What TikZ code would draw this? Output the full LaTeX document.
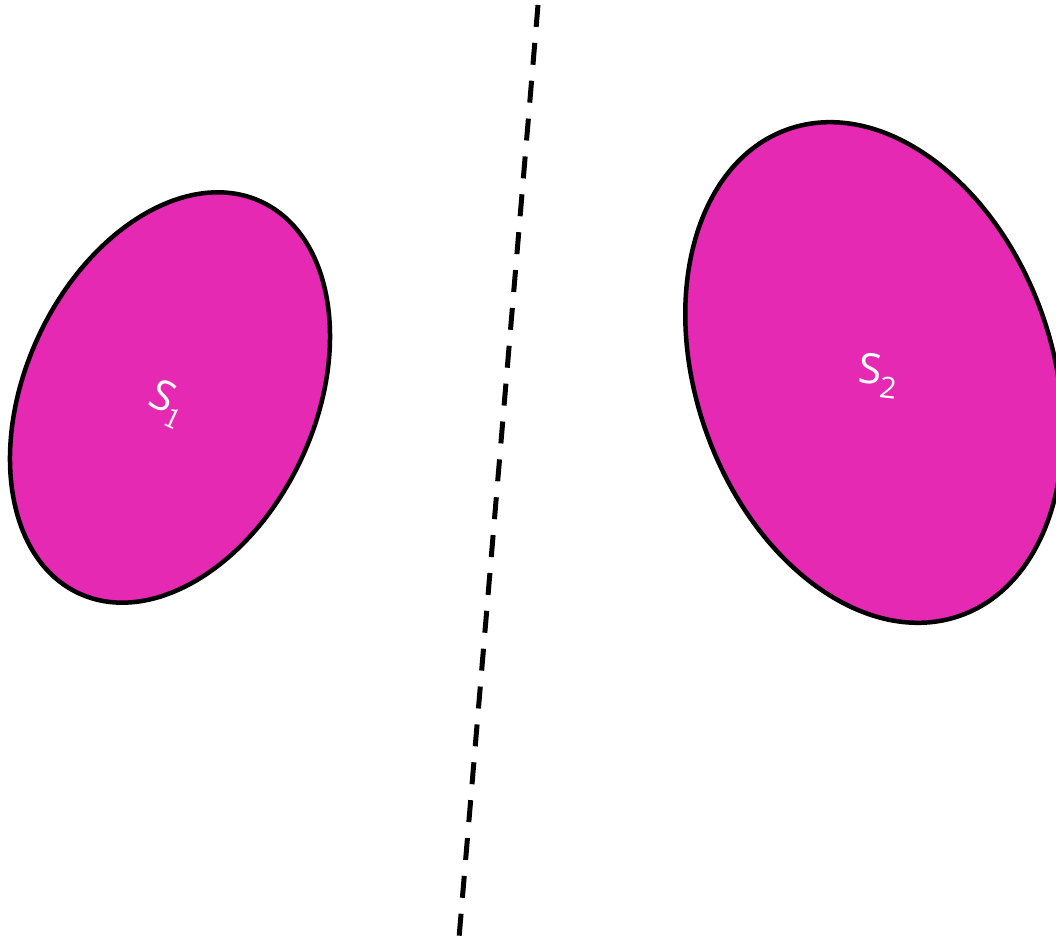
\documentclass[tikz,border=0pt]{standalone}
\usepackage{fontspec}
\setmainfont{Open Sans}
\usetikzlibrary{shapes.geometric}
\definecolor{blob}{HTML}{E529B3}
\tikzset{
  blobshape/.style={ellipse, draw=black, fill=blob, line width=4.5pt, inner sep=0pt},
  blobtext/.style={text=white, font=\fontsize{42}{46}\selectfont, inner sep=0pt},
  divider/.style={draw=black, line width=5pt, dash pattern=on 22pt off 16pt}
}
\begin{document}
\begin{tikzpicture}[x=1pt,y=1pt]
\useasboundingbox (0,0) rectangle (1056,941);
\clip (0,0) rectangle (1056,941);
\node[blobshape, minimum width=290pt, minimum height=432pt, rotate=-25] (s1) at (170,543.5) {};
\node[blobshape, minimum width=356pt, minimum height=516pt, rotate=19.6] (s2) at (874,568.5) {};
\node[blobtext, rotate=-25] (l1) at (167,537) {S$_{\mathsf{1}}$};
\node[blobtext, rotate=-6] (l2) at (878,565) {S\textsubscript{2}};
\coordinate (dtop) at (538,936);
\coordinate (dbot) at (459,3);
\draw[divider] (dtop) -- (dbot);
\end{tikzpicture}
\end{document}
